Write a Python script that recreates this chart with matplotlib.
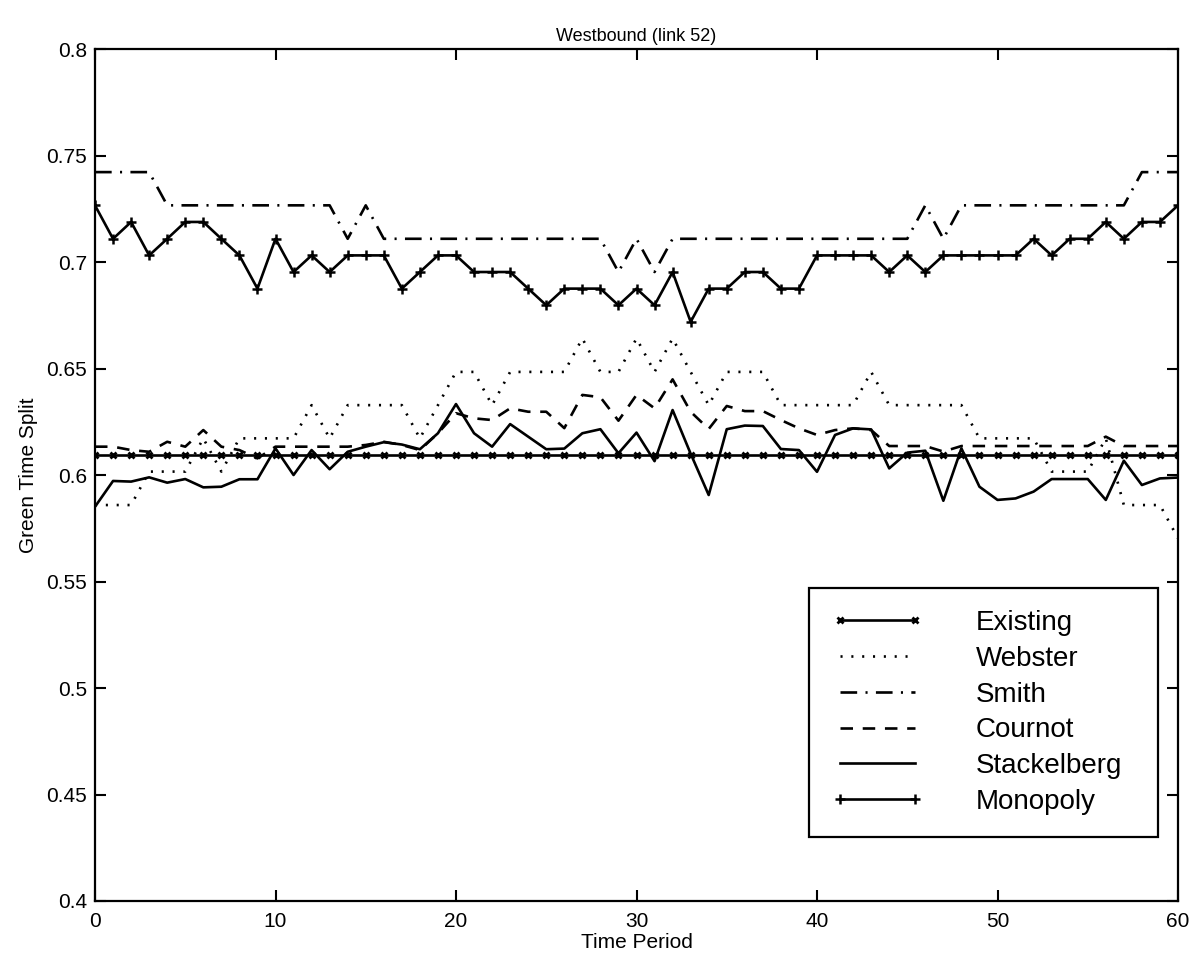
import numpy as np
import matplotlib
matplotlib.use("Agg")
import matplotlib.pyplot as plt
from matplotlib.ticker import FormatStrFormatter

plt.rcParams['font.family'] = ['Liberation Sans', 'DejaVu Sans']
plt.rcParams['lines.scale_dashes'] = False

# time periods 0..60
period = np.arange(0, 61)

existing = [0.6094] * 61

monopoly = [0.7266, 0.7109, 0.7188, 0.7031, 0.7109, 0.7188, 0.7188, 0.7109, 0.7031, 0.6875,
            0.7109, 0.6953, 0.7031, 0.6953, 0.7031, 0.7031, 0.7031, 0.6875, 0.6953, 0.7031,
            0.7031, 0.6953, 0.6953, 0.6953, 0.6875, 0.6797, 0.6875, 0.6875, 0.6875, 0.6797,
            0.6875, 0.6797, 0.6953, 0.6719, 0.6875, 0.6875, 0.6953, 0.6953, 0.6875, 0.6875,
            0.7031, 0.7031, 0.7031, 0.7031, 0.6953, 0.7031, 0.6953, 0.7031, 0.7031, 0.7031,
            0.7031, 0.7031, 0.7109, 0.7031, 0.7109, 0.7109, 0.7188, 0.7109, 0.7188, 0.7188,
            0.7266]

smith = [0.7422, 0.7422, 0.7422, 0.7422, 0.7266, 0.7266, 0.7266, 0.7266, 0.7266, 0.7266,
         0.7266, 0.7266, 0.7266, 0.7266, 0.7109, 0.7266, 0.7109, 0.7109, 0.7109, 0.7109,
         0.7109, 0.7109, 0.7109, 0.7109, 0.7109, 0.7109, 0.7109, 0.7109, 0.7109, 0.6953,
         0.7109, 0.6953, 0.7109, 0.7109, 0.7109, 0.7109, 0.7109, 0.7109, 0.7109, 0.7109,
         0.7109, 0.7109, 0.7109, 0.7109, 0.7109, 0.7109, 0.7266, 0.7109, 0.7266, 0.7266,
         0.7266, 0.7266, 0.7266, 0.7266, 0.7266, 0.7266, 0.7266, 0.7266, 0.7422, 0.7422,
         0.7422]

webster = [0.5859, 0.5859, 0.5859, 0.6016, 0.6016, 0.6016, 0.6172, 0.6016, 0.6172, 0.6172,
           0.6172, 0.6172, 0.6328, 0.6172, 0.6328, 0.6328, 0.6328, 0.6328, 0.6172, 0.6328,
           0.6484, 0.6484, 0.6328, 0.6484, 0.6484, 0.6484, 0.6484, 0.6641, 0.6484, 0.6484,
           0.6641, 0.6484, 0.6641, 0.6484, 0.6328, 0.6484, 0.6484, 0.6484, 0.6328, 0.6328,
           0.6328, 0.6328, 0.6328, 0.6484, 0.6328, 0.6328, 0.6328, 0.6328, 0.6328, 0.6172,
           0.6172, 0.6172, 0.6172, 0.6016, 0.6016, 0.6016, 0.6172, 0.5859, 0.5859, 0.5859,
           0.5703]

cournot = [0.6133, 0.6133, 0.6117, 0.6109, 0.6156, 0.6133, 0.6211, 0.6133, 0.6117, 0.6078,
           0.6133, 0.6133, 0.6133, 0.6133, 0.6133, 0.6141, 0.6156, 0.6141, 0.6117, 0.6196,
           0.6290, 0.6266, 0.6258, 0.6313, 0.6297, 0.6297, 0.6220, 0.6376, 0.6365, 0.6255,
           0.6376, 0.6313, 0.6449, 0.6297, 0.6216, 0.6324, 0.6300, 0.6300, 0.6258, 0.6219,
           0.6188, 0.6211, 0.6219, 0.6211, 0.6136, 0.6136, 0.6136, 0.6110, 0.6136, 0.6136,
           0.6136, 0.6136, 0.6136, 0.6136, 0.6136, 0.6136, 0.6180, 0.6136, 0.6136, 0.6136,
           0.6136]

stackelberg = [0.5851, 0.5972, 0.5969, 0.5989, 0.5964, 0.5981, 0.5942, 0.5945, 0.5980, 0.5980,
               0.6125, 0.6000, 0.6117, 0.6027, 0.6109, 0.6133, 0.6154, 0.6143, 0.6121, 0.6196,
               0.6333, 0.6196, 0.6133, 0.6239, 0.6180, 0.6121, 0.6124, 0.6196, 0.6215, 0.6102,
               0.6199, 0.6065, 0.6305, 0.6100, 0.5906, 0.6215, 0.6232, 0.6230, 0.6122, 0.6117,
               0.6015, 0.6188, 0.6219, 0.6214, 0.6031, 0.6105, 0.6114, 0.5879, 0.6125, 0.5945,
               0.5883, 0.5890, 0.5922, 0.5981, 0.5981, 0.5981, 0.5883, 0.6067, 0.5953, 0.5984,
               0.5988]

labels = ['Existing', 'Webster', 'Smith', 'Cournot', 'Stackelberg', 'Monopoly']

fig = plt.figure(figsize=(12.01, 9.67), dpi=100)
ax = fig.add_axes([95 / 1201, 1 - 901 / 967, 1083 / 1201, 852 / 967])

lw = 1.9
ax.plot(period, existing, color='k', lw=lw, marker='x', ms=4.5, mew=2, label=labels[0])
ax.plot(period, webster, color='k', lw=lw, linestyle=(0, (1.5, 6.3)), label=labels[1])
ax.plot(period, smith, color='k', lw=lw, linestyle=(0, (12, 6, 1.5, 6)), label=labels[2])
ax.plot(period, cournot, color='k', lw=lw, linestyle=(0, (9, 7)), label=labels[3])
ax.plot(period, stackelberg, color='k', lw=lw, label=labels[4])
ax.plot(period, monopoly, color='k', lw=lw, marker='+', ms=7, mew=1.8, label=labels[5])

ax.set_xlim(0, 60)
ax.set_ylim(0.4, 0.8)
ax.set_xticks(np.arange(0, 61, 10))
ax.set_yticks(np.arange(0.4, 0.801, 0.05))
ax.yaxis.set_major_formatter(FormatStrFormatter('%g'))
ax.tick_params(direction='in', length=8, width=1.5, top=True, right=True, labelsize=15)
ax.tick_params(axis='x', pad=8)
ax.tick_params(axis='y', pad=5.5)
for s in ax.spines.values():
    s.set_linewidth(1.6)

ax.set_title('Westbound (link 52)', fontsize=13, pad=6)
ax.set_xlabel('Time Period', fontsize=15, labelpad=1)
ax.set_ylabel('Green Time Split', fontsize=15, labelpad=6)

leg = ax.legend(loc='lower left', bbox_to_anchor=(0.6593, 0.0751, 0.3222, 0.2934),
                mode='expand', borderaxespad=0, fontsize=20, numpoints=2,
                handlelength=3.3, handletextpad=1.9, labelspacing=0.35, borderpad=0.8,
                fancybox=False, framealpha=1, edgecolor='k')
leg.get_frame().set_linewidth(1.6)

fig.savefig('out.png', dpi=100)
